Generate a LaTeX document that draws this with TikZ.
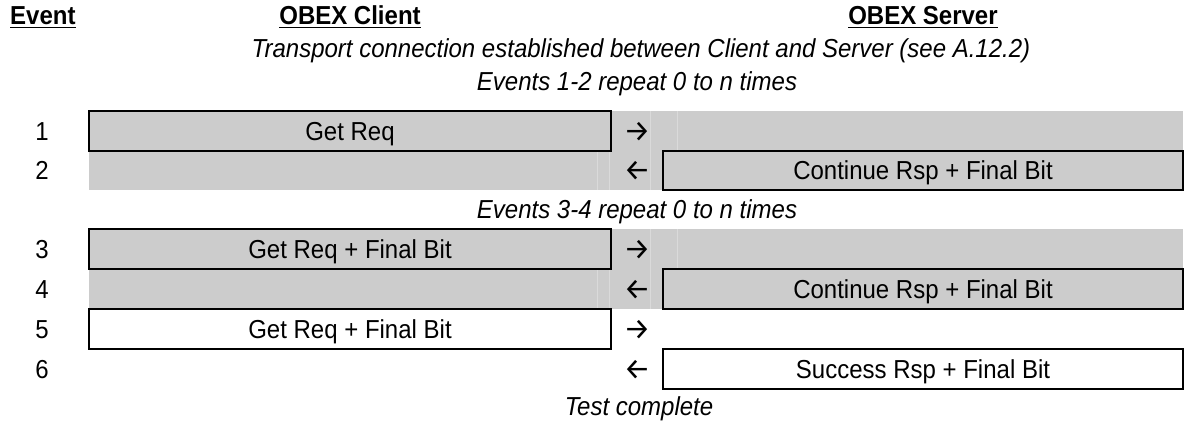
\documentclass[tikz,border=0pt]{standalone}
\usepackage{fontspec}
\setmainfont{Liberation Sans}[FakeStretch=0.923]
\newfontfamily\arrowfont{Fira Sans}
\definecolor{bandgrey}{RGB}{204,204,204}
\definecolor{seam}{RGB}{218,218,218}
\begin{document}
\begin{tikzpicture}[x=1pt,y=-1pt,
  base font/.style={font=\fontsize{26}{30}\selectfont},
  txt/.style={base font, inner sep=0pt, anchor=base},
  hdr/.style={txt, font=\fontsize{26}{30}\selectfont\bfseries},
  note/.style={txt, font=\fontsize{26}{30}\selectfont\itshape},
  uline/.style={line width=1.6pt},
  msgbox/.style={draw=black, line width=2pt, inner sep=0pt, minimum height=40pt,
                 text height=18.6pt, text depth=0pt, base font},
  clientbox/.style={msgbox, minimum width=522pt},
  serverbox/.style={msgbox, minimum width=520pt},
  band/.style={fill=bandgrey},
  arrowmark/.style={font=\arrowfont\fontsize{30}{34}\selectfont, inner sep=0pt, anchor=center},
  seamline/.style={draw=seam, line width=0.6pt}
]
\useasboundingbox (0,0) rectangle (1189,423);

% headers
\node[hdr, anchor=base west] (hEvent) at (10,24) {Event};
\node[hdr] (hClient) at (350,24) {OBEX Client};
\node[hdr] (hServer) at (923,24) {OBEX Server};
\foreach \h in {hEvent,hClient,hServer}{
  \draw[uline] ([yshift=-3.5pt]\h.base west) -- ([yshift=-3.5pt]\h.base east);
}

% notes
\node[note] (nTransport) at (641,57) {Transport connection established between Client and Server (see A.12.2)};
\node[note] (nRep12) at (637,90) {Events 1-2 repeat 0 to n times};
\node[note] (nRep34) at (637,218) {Events 3-4 repeat 0 to n times};
\node[note] (nDone) at (639,415) {Test complete};

% grey bands
\path[band] (89,111) rectangle (1183,190);
\path[band] (89,229) rectangle (1183,309);
\foreach \x in {597,609,650,677}{
  \draw[seamline] (\x,111) -- (\x,190);
  \draw[seamline] (\x,229) -- (\x,309);
}

% row 1
\node[txt] (e1) at (42,140) {1};
\node[clientbox, fill=bandgrey] (m1) at (350,131) {Get Req};
\node[arrowmark] (a1) at (637,131.5) {→};
% row 2
\node[txt] (e2) at (42,179.5) {2};
\node[arrowmark] (a2) at (637,171) {←};
\node[serverbox, fill=bandgrey, minimum height=39pt] (m2) at (923,170.5) {Continue Rsp + Final Bit};
% row 3
\node[txt] (e3) at (42,258) {3};
\node[clientbox, fill=bandgrey] (m3) at (350,249) {Get Req + Final Bit};
\node[arrowmark] (a3) at (637,249.5) {→};
% row 4
\node[txt] (e4) at (42,298) {4};
\node[arrowmark] (a4) at (637,289.5) {←};
\node[serverbox, fill=bandgrey] (m4) at (923,289) {Continue Rsp + Final Bit};
% row 5
\node[txt] (e5) at (42,338) {5};
\node[clientbox, fill=white] (m5) at (350,329) {Get Req + Final Bit};
\node[arrowmark] (a5) at (637,329.5) {→};
% row 6
\node[txt] (e6) at (42,378) {6};
\node[arrowmark] (a6) at (637,369.5) {←};
\node[serverbox, fill=white] (m6) at (923,369) {Success Rsp + Final Bit};
\end{tikzpicture}
\end{document}
